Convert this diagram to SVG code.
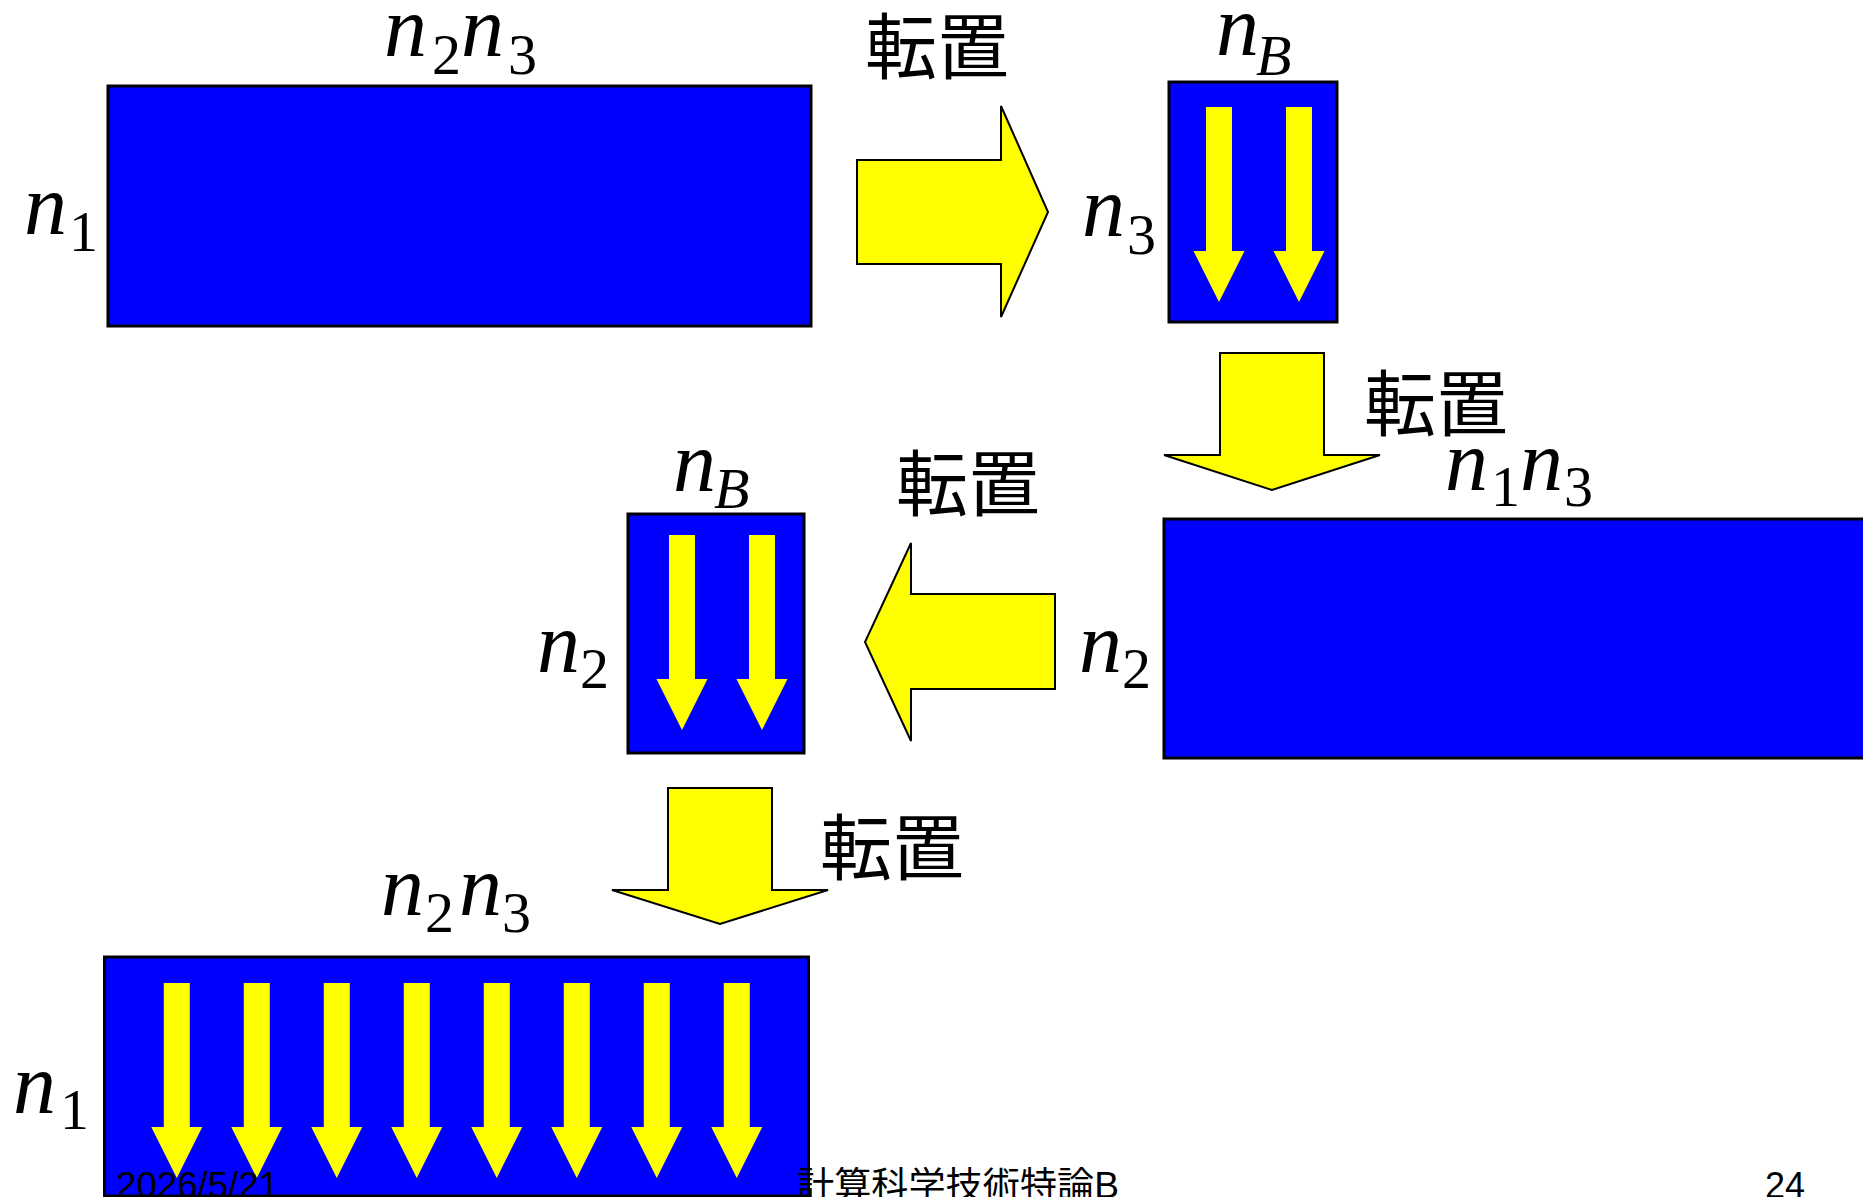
<svg xmlns="http://www.w3.org/2000/svg" xmlns:xlink="http://www.w3.org/1999/xlink" width="1863" height="1197" viewBox="0 0 1863 1197">
<style>
.blk{fill:#0000ff;stroke:#000;stroke-width:3}
.big{fill:#ffff00;stroke:#000;stroke-width:2;stroke-linejoin:miter}
.sm{fill:#ffff00;stroke:none}
.m{font-family:"Liberation Serif",serif;font-size:86px;fill:#000}
.i{font-style:italic}
.s{font-size:58px}
.jp{font-family:"Noto Sans CJK JP",sans-serif;font-size:72px;fill:#000}
.ft{font-family:"Liberation Sans","Noto Sans CJK JP",sans-serif;font-size:36px;fill:#000}
</style>
<defs>
<path id="va" d="M-13,0 H13 V144 H25.5 L0,195 L-25.5,144 H-13 Z"/>
</defs>
<rect width="1863" height="1197" fill="#fff"/>

<g id="node-m1">
<rect class="blk" x="108" y="86" width="703" height="240"/>
<text class="m" x="24" y="234"><tspan class="i">n</tspan><tspan class="s" x="69" y="251">1</tspan></text>
<text class="m" x="384" y="56"><tspan class="i">n</tspan><tspan class="s" x="432" y="74">2</tspan><tspan class="i" x="461" y="56">n</tspan><tspan class="s" x="508" y="74">3</tspan></text>
</g>

<g id="node-m2">
<rect class="blk" x="1169" y="82" width="168" height="240"/>
<use href="#va" xlink:href="#va" class="sm" x="1219" y="107"/>
<use href="#va" xlink:href="#va" class="sm" x="1299" y="107"/>
<text class="m" x="1216" y="55"><tspan class="i">n</tspan><tspan class="s i" x="1256" y="75">B</tspan></text>
<text class="m" x="1082" y="236"><tspan class="i">n</tspan><tspan class="s" x="1127" y="254">3</tspan></text>
</g>

<g id="node-m3">
<rect class="blk" x="1164" y="519" width="720" height="239"/>
<text class="m" x="1445" y="490"><tspan class="i">n</tspan><tspan class="s" x="1491" y="506">1</tspan><tspan class="i" x="1520" y="490">n</tspan><tspan class="s" x="1564" y="506">3</tspan></text>
<text class="m" x="1079" y="672"><tspan class="i">n</tspan><tspan class="s" x="1122" y="688">2</tspan></text>
</g>

<g id="node-m4">
<rect class="blk" x="628" y="514" width="176" height="239"/>
<use href="#va" xlink:href="#va" class="sm" x="682" y="535"/>
<use href="#va" xlink:href="#va" class="sm" x="762" y="535"/>
<text class="m" x="673" y="491"><tspan class="i">n</tspan><tspan class="s i" x="714" y="508">B</tspan></text>
<text class="m" x="537" y="672"><tspan class="i">n</tspan><tspan class="s" x="580" y="688">2</tspan></text>
</g>

<g id="node-m5">
<rect class="blk" x="104.5" y="957" width="704" height="239"/>
<use href="#va" xlink:href="#va" class="sm" x="176.8" y="983"/>
<use href="#va" xlink:href="#va" class="sm" x="256.8" y="983"/>
<use href="#va" xlink:href="#va" class="sm" x="336.8" y="983"/>
<use href="#va" xlink:href="#va" class="sm" x="416.8" y="983"/>
<use href="#va" xlink:href="#va" class="sm" x="496.8" y="983"/>
<use href="#va" xlink:href="#va" class="sm" x="576.8" y="983"/>
<use href="#va" xlink:href="#va" class="sm" x="656.8" y="983"/>
<use href="#va" xlink:href="#va" class="sm" x="736.8" y="983"/>
<text class="m" x="381" y="915"><tspan class="i">n</tspan><tspan class="s" x="425" y="932">2</tspan><tspan class="i" x="459" y="915">n</tspan><tspan class="s" x="502" y="932">3</tspan></text>
<text class="m" x="13" y="1113"><tspan class="i">n</tspan><tspan class="s" x="60" y="1129">1</tspan></text>
</g>

<g id="connectors">
<g id="c1">
<polygon class="big" points="857,160 1001,160 1001,106 1048,212 1001,317 1001,264 857,264"/>
<text class="jp" x="865" y="73">転置</text>
</g>
<g id="c2">
<polygon class="big" points="1220,353 1324,353 1324,455 1380,455 1272,490 1164,455 1220,455"/>
<text class="jp" x="1364" y="430">転置</text>
</g>
<g id="c3">
<polygon class="big" points="1055,594 911,594 911,543 865,642 911,741 911,689 1055,689"/>
<text class="jp" x="896" y="510">転置</text>
</g>
<g id="c4">
<polygon class="big" points="668,788 772,788 772,890 828,890 720,924 612,890 668,890"/>
<text class="jp" x="820" y="874">転置</text>
</g>
</g>

<g id="footer">
<text class="ft" x="116" y="1198" textLength="163" lengthAdjust="spacingAndGlyphs">2026/5/21</text>
<text class="ft" x="797" y="1198" textLength="322" lengthAdjust="spacingAndGlyphs">計算科学技術特論B</text>
<text class="ft" x="1765" y="1198">24</text>
</g>
</svg>
